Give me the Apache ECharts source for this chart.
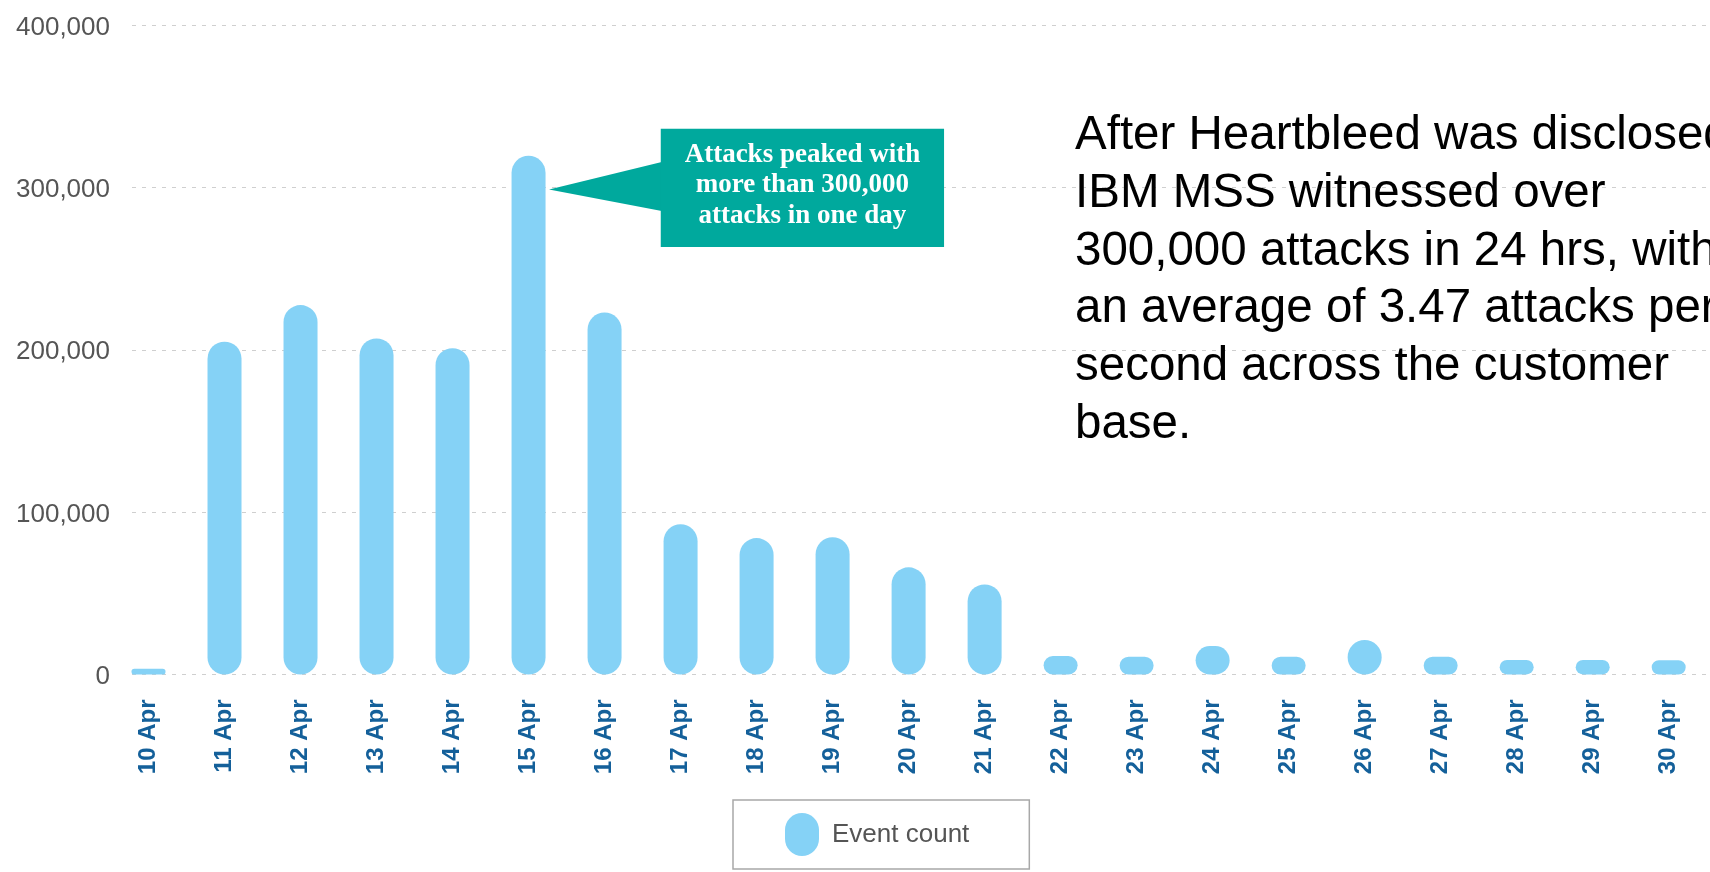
<!DOCTYPE html>
<html>
<head>
<meta charset="utf-8">
<title>Event count</title>
<script src="https://cdn.jsdelivr.net/npm/echarts@6/dist/echarts.min.js"></script>
<style>
  html, body { margin: 0; padding: 0; background: #ffffff; }
  #chart { width: 1710px; height: 872px; }
</style>
</head>
<body>
<div id="chart"></div>
<script>
// Daily event counts, April 10-30
const days = ['10 Apr', '11 Apr', '12 Apr', '13 Apr', '14 Apr', '15 Apr', '16 Apr',
              '17 Apr', '18 Apr', '19 Apr', '20 Apr', '21 Apr', '22 Apr', '23 Apr',
              '24 Apr', '25 Apr', '26 Apr', '27 Apr', '28 Apr', '29 Apr', '30 Apr'];
const eventCount = [3500, 205000, 227500, 207000, 201000, 319500, 223000,
                    92500, 84000, 84500, 66000, 55500, 11400, 11000,
                    17500, 11000, 21200, 11000, 9000, 9000, 8800];
const yTicks = [0, 100000, 200000, 300000, 400000];
const seriesName = 'Event count';
const peakNote = ['Attacks peaked with', 'more than 300,000', 'attacks in one day'];
const peakLevel = 300000;
const summaryLines = [
  'After Heartbleed was disclosed,',
  'IBM MSS witnessed over',
  '300,000 attacks in 24 hrs, with',
  'an average of 3.47 attacks per',
  'second across the customer',
  'base.'
];

const chart = echarts.init(document.getElementById('chart'));

const yMin = yTicks[0];
const yMax = yTicks[yTicks.length - 1];
const yStep = yTicks[1] - yTicks[0];
const barW = 34;

const option = {
  backgroundColor: '#ffffff',
  animation: false,
  grid: [
    // gridlines and value labels
    { left: 132, right: 0, top: 25, bottom: 197.5 },
    // bars and day labels
    { left: 110.5, right: 3.3, top: 25, bottom: 197.5 }
  ],
  xAxis: [
    { gridIndex: 0, type: 'value', show: false, min: 0, max: 1 },
    {
      gridIndex: 1,
      type: 'category',
      data: days,
      axisLine: { show: false },
      axisTick: { show: false },
      splitLine: { show: false },
      axisLabel: {
        interval: 0,
        rotate: 90,
        margin: 25,
        fontSize: 24,
        fontWeight: 'bold',
        fontFamily: 'Liberation Sans, Arial, sans-serif',
        color: '#14609a'
      }
    }
  ],
  yAxis: [
    {
      gridIndex: 0,
      type: 'value',
      min: yMin,
      max: yMax,
      interval: yStep,
      axisLine: { show: false },
      axisTick: { show: false },
      axisLabel: {
        margin: 22,
        formatter: v => '{v|' + v.toLocaleString('en-US') + '}',
        rich: {
          v: {
            fontSize: 26,
            fontFamily: 'Liberation Sans, Arial, sans-serif',
            color: '#555555',
            padding: [5, 0, 0, 0]
          }
        }
      },
      splitLine: {
        show: true,
        lineStyle: { color: '#cfcfcf', width: 1, type: [4, 6] }
      }
    },
    {
      gridIndex: 1,
      type: 'value',
      min: yMin,
      max: yMax,
      interval: yStep,
      show: false,
      splitLine: { show: false }
    }
  ],
  legend: {
    data: [seriesName],
    left: 733,
    top: 800,
    orient: 'horizontal',
    padding: [13, 60, 13, 52],
    borderColor: '#a8a8a8',
    borderWidth: 1.5,
    itemWidth: 34,
    itemHeight: 43,
    icon: 'path://M0,17 A17,17 0 0 1 34,17 L34,26 A17,17 0 0 1 0,26 Z',
    selectedMode: false,
    textStyle: {
      fontSize: 26,
      fontFamily: 'Liberation Sans, Arial, sans-serif',
      color: '#555555',
      padding: [0, 0, 0, 8]
    }
  },
  series: [
    {
      name: seriesName,
      type: 'bar',
      xAxisIndex: 1,
      yAxisIndex: 1,
      data: eventCount,
      barWidth: barW,
      itemStyle: { color: '#85d2f6', borderRadius: barW / 2 }
    }
  ]
};

chart.setOption(option);

// Callout pointing at the peak day, plus the summary paragraph
const peakIdx = eventCount.indexOf(Math.max(...eventCount));
const anchor = chart.convertToPixel({ xAxisIndex: 1, yAxisIndex: 1 }, [peakIdx, peakLevel]);
const tipX = anchor[0] + barW / 2 + 3.5;
const tipY = anchor[1] + 2;
const boxX = tipX + 111.7;
const boxY = tipY - 60.7;
const boxW = 283.3;
const boxH = 118.4;
const teal = '#00a99d';

chart.setOption({
  graphic: [
    {
      type: 'polygon',
      shape: { points: [[tipX, tipY], [boxX + 1, tipY - 27.4], [boxX + 1, tipY + 21.7]] },
      style: { fill: teal }
    },
    {
      type: 'rect',
      shape: { x: boxX, y: boxY, width: boxW, height: boxH },
      style: { fill: teal }
    },
    {
      type: 'text',
      x: boxX + boxW / 2,
      y: tipY - 4,
      style: {
        text: peakNote.join('\n'),
        fill: '#ffffff',
        font: 'bold 27px "Liberation Serif", "Times New Roman", serif',
        lineHeight: 30.5,
        align: 'center',
        verticalAlign: 'middle'
      }
    },
    {
      type: 'text',
      x: 1075,
      y: 107,
      style: {
        text: summaryLines.join('\n'),
        fill: '#000000',
        font: '47.5px "Liberation Sans", Arial, sans-serif',
        lineHeight: 57.8,
        align: 'left',
        verticalAlign: 'top'
      }
    }
  ]
});
</script>
</body>
</html>
